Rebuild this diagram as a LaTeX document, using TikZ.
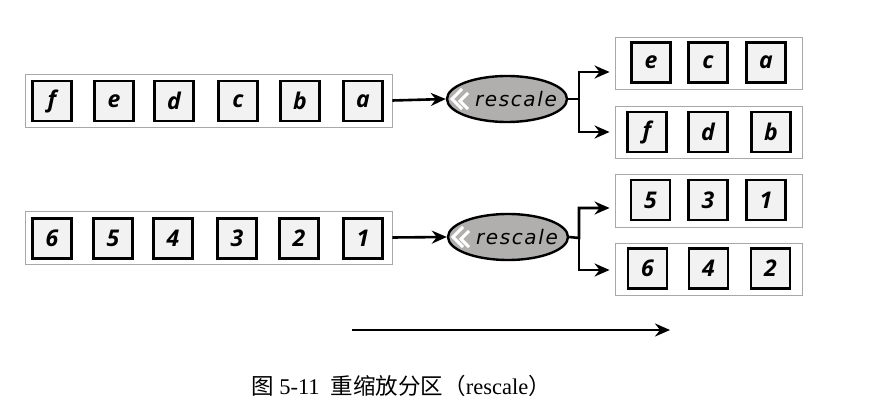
\documentclass[tikz,border=0pt]{standalone}
\usepackage{fontspec}
\usetikzlibrary{arrows.meta,shapes.geometric,calc}
\setmainfont{Liberation Serif}
\newfontfamily\boxfont{Open Sans}
\newfontfamily\ellfont[LetterSpace=8]{DejaVu Sans}
\newfontfamily\cjk{Noto Sans CJK SC}
\definecolor{boxfill}{HTML}{F2F2F2}
\definecolor{ellfill}{HTML}{B1AEAE}
\definecolor{contline}{HTML}{A8A8A8}
\tikzset{
  cell/.style={draw=black, line width=2.6pt, fill=boxfill, minimum width=39pt, minimum height=40pt, inner sep=0pt,
    font=\boxfont\fontsize{23}{26}\selectfont\bfseries\itshape},
  cont/.style={draw=contline, line width=0.9pt, fill=white, inner sep=0pt},
  proc/.style={ellipse, draw=black, line width=2.4pt, fill=ellfill, minimum width=120pt, minimum height=46pt, inner sep=0pt},
  proctext/.style={inner sep=0pt, font=\ellfont\fontsize{20}{22}\selectfont\itshape},
  conn/.style={draw=black, line width=2.6pt, -{Stealth[length=15pt,width=13pt,inset=5pt]}},
  chev/.style={draw=white, line width=3pt, line join=miter},
}
\begin{document}
\begin{tikzpicture}[x=1pt,y=-1pt]
\useasboundingbox (0,0) rectangle (872,406);

% ---------- row 1 ----------
\node[cont, minimum width=367pt, minimum height=53pt] (L1) at (208.5,100.5) {};
\node[cell] (l1f) at (52,101) {f};
\node[cell] (l1e) at (114,101) {e};
\node[cell] (l1d) at (174,101) {d};
\node[cell] (l1c) at (238,101) {c};
\node[cell] (l1b) at (300,101) {b};
\node[cell] (l1a) at (363,101) {a};

\node[proc] (E1) at (507,99) {};
\node[proctext] (E1t) at ($(E1.center)+(9,0)$) {rescale};
\draw[chev] ($(E1.center)+(-45,-10)$) -- ($(E1.center)+(-55,0)$) -- ($(E1.center)+(-45,10)$);
\draw[chev] ($(E1.center)+(-39,-6)$) -- ($(E1.center)+(-47,2)$) -- ($(E1.center)+(-39,10)$);

\node[cont, minimum width=187pt, minimum height=52pt] (R1t) at (708.5,63) {};
\node[cell] (r1e) at (651,62.5) {e};
\node[cell] (r1c) at (708,62.5) {c};
\node[cell] (r1a) at (766,62.5) {a};

\node[cont, minimum width=187pt, minimum height=52pt] (R1b) at (708.5,132) {};
\node[cell] (r1f) at (647,132) {f};
\node[cell] (r1d) at (708,132) {d};
\node[cell] (r1b) at (771,132) {b};

\draw[conn] (L1.east) -- (E1.west);
\coordinate (J1) at (579,99);
\draw[conn, shorten >=5pt] (E1.east) -- (J1) |- ([yshift=-9pt]R1t.west);
\draw[conn, shorten >=5pt] (J1) |- (R1b.west);

% ---------- row 2 ----------
\node[cont, minimum width=367pt, minimum height=53pt] (L2) at (208.5,237.5) {};
\node[cell] (l26) at (52,238.5) {6};
\node[cell] (l25) at (113,238.5) {5};
\node[cell] (l24) at (173,238.5) {4};
\node[cell] (l23) at (237,238.5) {3};
\node[cell] (l22) at (299,238.5) {2};
\node[cell] (l21) at (363,238.5) {1};

\node[proc] (E2) at (508,237) {};
\node[proctext] (E2t) at ($(E2.center)+(9,0)$) {rescale};
\draw[chev] ($(E2.center)+(-45,-10)$) -- ($(E2.center)+(-55,0)$) -- ($(E2.center)+(-45,10)$);
\draw[chev] ($(E2.center)+(-39,-6)$) -- ($(E2.center)+(-47,2)$) -- ($(E2.center)+(-39,10)$);

\node[cont, minimum width=187pt, minimum height=53pt] (R2t) at (708.5,200.5) {};
\node[cell] (r25) at (650.5,200) {5};
\node[cell] (r23) at (708,200) {3};
\node[cell] (r21) at (766,200) {1};

\node[cont, minimum width=187pt, minimum height=52pt] (R2b) at (708.5,269) {};
\node[cell] (r26) at (647.5,268.5) {6};
\node[cell] (r24) at (708.5,268.5) {4};
\node[cell] (r22) at (770.5,268.5) {2};

\draw[conn] (L2.east) -- (E2.west);
\coordinate (J2) at (579,238);
\draw[conn, shorten >=5pt] (E2.east) -- (J2) |- ([yshift=-7.5pt]R2t.west);
\draw[conn, shorten >=5pt] (J2) |- ([yshift=-1pt]R2b.west);

% ---------- time arrow ----------
\coordinate (T0) at (352,330);
\coordinate (T1) at (670,330);
\draw[conn] (T0) -- (T1);

% ---------- caption ----------
\node[font=\fontsize{22.5}{25}\selectfont, inner sep=0pt] (cap) at (401,386)
  {{\cjk 图}\ 5-11\ \ {\cjk 重缩放分区（}rescale{\cjk ）}};
\end{tikzpicture}
\end{document}
